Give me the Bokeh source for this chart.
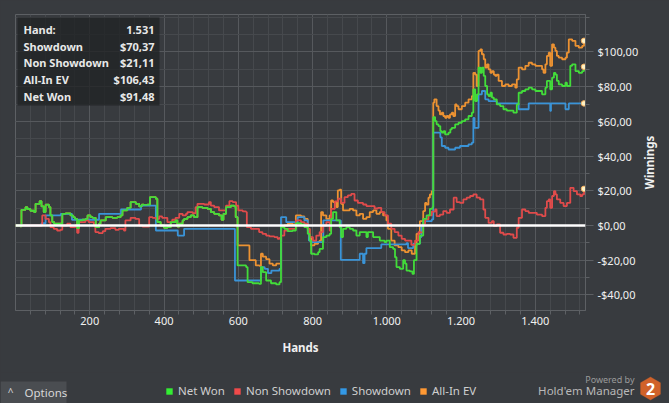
from bokeh.plotting import figure
from bokeh.models import (Range1d, FixedTicker, CustomJSTickFormatter, Span, Legend,
                          LegendItem, Label, BoxAnnotation, PolyAnnotation)
from bokeh.embed import file_html
from bokeh.resources import INLINE
import math

FONT = "Noto Sans"
BG = "#383b3f"

# ---------------- data (hand, cumulative $) ----------------
shared_start = [(0, 0), (13, -0.5), (16, 9), (27, 10.5), (32, 9.5), (40, 8.5), (50, 7.7), (54, 12.5),
                (65, 14), (70, 11), (76, 7.7), (81, 12), (90, 10.6), (94, 5.8), (99, 2), (104, 1),
                (117, 1), (126, 6.7), (135, 7), (148, 5.8), (155, 4.8), (160, 3.8), (166, -1.5),
                (171, 2.9), (180, 3.3), (189, 3.8), (194, 5.8), (202, 4.8), (208, 4.4), (216, -1),
                (225, 1), (229, 2.9), (243, 4.8), (261, 4.4), (274, 4.8), (283, 5.8), (288, 8.7),
                (301, 10.2), (310, 13.5), (324, 12.5), (333, 11), (340, 12), (346, 11.9), (355, 12),
                (362, 16.3), (378, 15.4), (382, 2), (391, 0), (400, -1.3), (409, -1), (418, 1.9),
                (431, 2.9), (436, -0.6), (441, 1), (450, 2.9), (454, 3.8), (463, 4.8), (472, 5.8),
                (481, 4.8), (490, 10.6), (503, 10.2), (517, 9.6), (526, 7.7), (535, 6.7), (548, 5.8),
                (555, 3.3), (560, 6.7), (567, 10.6), (580, 11.5), (589, 11), (593, 4.8)]

net_won_rest = [(598, -23), (607, -23), (621, -24), (625, -32.7), (638, -33.3), (656, -33.7),
                (661, -24), (666, -26.9), (675, -31.7), (688, -33.3), (702, -34), (711, -32.7),
                (715, -1), (724, -1.9), (733, -3.3), (746, -2.9), (755, 1.3), (769, 0.6), (778, -1),
                (787, -4.8), (792, -8.7), (796, -16.3), (805, -16.7), (815, -15.4), (819, -13.5),
                (828, -6.7), (837, -5.8), (846, -4.8), (850, 3.8), (855, 7.7), (864, 2.9), (873, -1),
                (877, -6.7), (882, -1.9), (891, -1), (900, -1.9), (909, -2.9), (918, -5.8),
                (927, -3.8), (936, -3.8), (945, -6.7), (949, -3.8), (958, -3.8), (963, -6.7),
                (972, -6.7), (981, -8.7), (994, -9.6), (999, -8.7), (1008, -12.5), (1017, -13.5),
                (1022, -18.3), (1026, -24), (1035, -25), (1044, -20), (1049, -22), (1053, -26),
                (1062, -26.5), (1069, -27.9), (1073, -20), (1080, -10.6), (1089, -5.8), (1098, 3.8),
                (1107, 5.8), (1116, 9.6), (1123, 10.6), (1125, 62.5), (1130, 60.2), (1134, 58.3),
                (1139, 57.3), (1144, 54.4), (1148, 53.5), (1153, 54.4), (1157, 52.5), (1166, 53.5),
                (1171, 55.4), (1175, 56.3), (1184, 58.3), (1193, 59.2), (1202, 60.2), (1211, 61.2),
                (1220, 63.1), (1229, 65), (1233, 78.5), (1238, 71.7), (1243, 75.6), (1247, 91),
                (1252, 88), (1256, 91), (1261, 86.2), (1265, 80.4), (1270, 75.6), (1274, 74.6),
                (1279, 76.5), (1283, 73.7), (1288, 72.7), (1296, 69.8), (1305, 68.8), (1314, 67),
                (1323, 66.2), (1332, 66.2), (1341, 65), (1350, 69.8), (1355, 76.5), (1364, 77.5),
                (1373, 78.5), (1382, 79.4), (1391, 78.5), (1400, 77.5), (1409, 77.5), (1418, 75.6),
                (1427, 79.4), (1431, 83.3), (1440, 78.5), (1445, 85.2), (1450, 88), (1454, 87),
                (1458, 83.3), (1463, 81.3), (1472, 80.4), (1481, 82.3), (1485, 80.4), (1494, 92),
                (1499, 92.9), (1508, 89), (1517, 88), (1526, 89), (1531, 91.48)]

allin_ev_rest = [(598, -11.5), (625, -11.5), (630, -20), (647, -23), (657, -23.3), (661, -16.3),
                 (666, -18), (675, -19.4), (684, -22), (693, -23), (702, -22), (711, -22), (715, -1),
                 (724, 0), (733, 1), (746, 0.6), (755, 5.8), (769, 5.2), (778, 3.8), (787, -1.9),
                 (792, -6.7), (796, -11.5), (805, -10.6), (815, -9.6), (819, -8.7), (823, 7.7),
                 (828, 5.8), (837, 3.8), (846, 5.8), (850, 14.4), (855, 13.5), (864, 10.6),
                 (868, 20.2), (873, 20.6), (877, 12.5), (882, 8.7), (891, 8.7), (900, 9.6),
                 (909, 8.7), (918, 5.8), (927, 6.7), (936, 3.8), (945, 4.8), (954, 7.7), (963, 8.7),
                 (972, 6.7), (981, 7.7), (990, 5.8), (999, 2.9), (1003, -1.9), (1012, -8.7),
                 (1021, -11.5), (1031, -12.5), (1040, -14.4), (1049, -15.4), (1058, -14.4),
                 (1067, -16.3), (1076, -11.5), (1080, -4.8), (1089, 2.5), (1098, 8.3), (1103, 13),
                 (1107, 12), (1112, 16), (1116, 17.9), (1121, 19.8), (1125, 70.8), (1128, 72.7),
                 (1134, 68.8), (1139, 66.2), (1143, 64), (1148, 65), (1152, 63.1), (1157, 62.1),
                 (1161, 63.1), (1166, 62.1), (1170, 64), (1175, 65), (1179, 63.1), (1184, 69.8),
                 (1188, 68.8), (1193, 67), (1202, 68.8), (1211, 70.8), (1220, 72.7), (1229, 74.6),
                 (1233, 88), (1238, 87), (1242, 80.4), (1247, 100.6), (1252, 101.5), (1256, 98.7),
                 (1261, 95.8), (1265, 91), (1270, 92.9), (1274, 90), (1279, 88), (1283, 88.9),
                 (1288, 87), (1292, 86.2), (1296, 87), (1301, 83.3), (1310, 80.4), (1319, 81.3),
                 (1328, 80.4), (1337, 81.3), (1346, 79.4), (1350, 84.2), (1355, 91), (1364, 90),
                 (1373, 92), (1382, 93.8), (1391, 92.9), (1400, 92), (1409, 92), (1418, 90),
                 (1422, 88), (1427, 92.9), (1431, 97.7), (1436, 99.6), (1440, 92), (1445, 104.4),
                 (1450, 102.5), (1454, 100.6), (1458, 97.7), (1463, 96.7), (1472, 95.8),
                 (1481, 96.7), (1485, 99.6), (1490, 107.3), (1499, 106.4), (1508, 103.5),
                 (1517, 102.5), (1526, 103.5), (1531, 106.43)]

showdown = [(0, 0), (67, 0), (70, 1.3), (81, 5.8), (121, 5.8), (122, 6.7), (148, 6.7), (152, 3.3),
            (224, 3.3), (225, 6.7), (283, 6.7), (284, 9.2), (337, 9.2), (338, 11.5), (377, 11.5),
            (378, -2.9), (436, -2.9), (437, -5.8), (453, -5.8), (454, -1.9), (590, -1.9),
            (591, -31.7), (660, -31.7), (661, -24), (671, -25), (680, -27.5), (689, -26),
            (702, -26), (711, -25), (715, 4.8), (728, 4.8), (729, 1.9), (755, 1.9), (760, 4.8),
            (778, 3), (787, -2.9), (790, -8.7), (795, -9.6), (828, -9.6), (829, 2.9), (873, 2.9),
            (876, -19.8), (926, -19.8), (927, -16.3), (936, -21.7), (940, -16.3), (945, -13),
            (981, -13), (985, -10.9), (1035, -10.9), (1053, -10.2), (1057, -13), (1066, -13),
            (1071, -10.6), (1089, -6.7), (1093, 0), (1098, 2.5), (1121, 3.5), (1125, 53.5),
            (1143, 53.5), (1144, 50.8), (1148, 45.8), (1157, 44.8), (1166, 43.8), (1184, 44.8),
            (1197, 45.8), (1220, 46.8), (1229, 47.7), (1233, 62), (1236, 56.3), (1246, 56.3),
            (1247, 75.6), (1256, 77.5), (1265, 72.7), (1274, 71.7), (1288, 71.7), (1296, 70.4),
            (1355, 67), (1382, 70.4), (1440, 66), (1442, 70.4), (1481, 67), (1490, 70.37),
            (1531, 70.37)]

non_showdown = [(0, 0), (71, 0), (72, 5.8), (81, 3.8), (90, 1.9), (94, -1), (103, -1.9), (112, -2.9),
                (121, -2.5), (126, 0), (139, 1), (148, -1), (161, 0), (166, -4.2), (170, 1.9),
                (188, 2.9), (197, 1.9), (211, 0), (215, -3.8), (224, -4.4), (235, -3.3), (242, -1.9),
                (256, -1.5), (269, -2.5), (278, -1.9), (292, -2.9), (296, 2.9), (310, 4.4),
                (323, 3.8), (333, 0), (342, -0.6), (360, 4.8), (369, 4.4), (378, 3.8), (387, 5.2),
                (395, 4.4), (409, 1.9), (422, 3.3), (431, 4.4), (441, 6.7), (450, 5.8), (459, 6.7),
                (463, 7.7), (477, 7.1), (485, 10.6), (490, 12.5), (508, 12.1), (521, 13.5),
                (526, 11.5), (535, 10.6), (548, 8.7), (557, 8.7), (567, 11.5), (576, 14),
                (585, 13.5), (594, 11.5), (600, 8.7), (612, 8.1), (621, 7.7), (623, -1), (634, -1.9),
                (647, -1.9), (656, -3.8), (665, -4.8), (675, -5.8), (684, -6.3), (697, -6.7),
                (706, -7.7), (711, -7.1), (715, -5.8), (724, -2.9), (733, -1.9), (746, -1.9),
                (755, 2.9), (769, 1.9), (778, 1), (787, -1.9), (792, -6.7), (801, -8.7),
                (810, -5.8), (819, -3.8), (828, 0), (837, 1.9), (846, -2.9), (850, 9.6),
                (860, 13.9), (869, 15.4), (877, 13), (886, 16.3), (895, 17.3), (904, 18.2),
                (913, 14.4), (922, 13), (936, 12.1), (945, 11.2), (958, 11.2), (967, 9.8),
                (976, 10.2), (985, 7.7), (994, 5.8), (1003, 1), (1012, -1.9), (1021, -3.8),
                (1031, -5.8), (1040, -7.7), (1049, -8.7), (1058, -8.7), (1066, -11.2),
                (1076, -8.7), (1085, -3.8), (1090, -4), (1098, 1), (1103, 3.5), (1112, 5.8),
                (1121, 8), (1130, 9.2), (1134, 5.4), (1143, 6.3), (1152, 8.3), (1161, 7.3),
                (1170, 9.2), (1180, 16), (1188, 13.5), (1197, 13), (1206, 15), (1215, 16),
                (1224, 17), (1233, 17.9), (1242, 16), (1251, 15), (1260, 9.2), (1265, 4.4),
                (1274, 1.5), (1283, 2.5), (1288, -0.4), (1296, 0.6), (1305, -4.2), (1314, -5.2),
                (1323, -4.8), (1332, -5.2), (1341, -7.1), (1350, -1.3), (1355, 4.4), (1364, 9.2),
                (1373, 8.3), (1382, 7.3), (1391, 7.3), (1404, 6.3), (1418, 5.4), (1427, 10.2),
                (1431, 14), (1436, 15), (1440, 10.2), (1445, 17), (1450, 19.8), (1454, 17.9),
                (1458, 15), (1467, 13), (1476, 11.2), (1485, 13), (1494, 21.7), (1503, 19.8),
                (1512, 17.9), (1521, 16.9), (1526, 17.9), (1531, 21.11)]

net_won = shared_start + net_won_rest
allin_ev = shared_start + allin_ev_rest

x_ticks = [200, 400, 600, 800, 1000, 1200, 1400]
y_ticks = [-40, -20, 0, 20, 40, 60, 80, 100]

legend_names = ["Net Won", "Non Showdown", "Showdown", "All-In EV"]
line_colors = {"Net Won": "#42dc3a", "Non Showdown": "#e04b4b",
               "Showdown": "#3a94d8", "All-In EV": "#ec9232"}
legend_colors = {"Net Won": "#33ee33", "Non Showdown": "#f04a4a",
                 "Showdown": "#3399e6", "All-In EV": "#ff9933"}
series = {"Net Won": net_won, "Non Showdown": non_showdown,
          "Showdown": showdown, "All-In EV": allin_ev}


def unzip(pts):
    return [a for a, _ in pts], [b for _, b in pts]


def money(v):
    return ("-$" if v < 0 else "$") + f"{abs(v):.2f}".replace(".", ",")


PAGE_W, PAGE_H = 669, 403
MAIN_H = 372

# ---------------- main figure ----------------
p = figure(frame_width=570, frame_height=296, output_backend="svg", toolbar_location=None,
           x_range=Range1d(0, 1535), y_range=Range1d(-49, 121.6),
           y_axis_location="right", background_fill_color=BG, border_fill_color=BG,
           min_border_left=15, min_border_top=14, min_border_right=PAGE_W - 585,
           min_border_bottom=MAIN_H - 310, outline_line_color="#5d6064")

GRID_MAJOR = "#56595d"
GRID_MINOR = "#46494d"
for g in (p.xgrid, p.ygrid):
    g.grid_line_color = GRID_MAJOR
    g.minor_grid_line_color = GRID_MINOR

xa = p.xaxis[0]
xa.ticker = FixedTicker(ticks=x_ticks, minor_ticks=list(range(40, 1535, 40)))
xa.formatter = CustomJSTickFormatter(code="""
const t = Math.round(tick);
return t >= 1000 ? Math.floor(t/1000) + '.' + String(t % 1000).padStart(3, '0') : String(t);
""")
xa.axis_label = "Hands"
xa.major_tick_out = 4
xa.major_tick_in = 0
xa.minor_tick_out = 4
xa.minor_tick_in = 0
xa.major_label_standoff = 2
xa.axis_label_standoff = 12

ya = p.yaxis[0]
ya.ticker = FixedTicker(ticks=y_ticks, minor_ticks=list(range(-40, 121, 10)))
ya.formatter = CustomJSTickFormatter(code="""
const s = Math.abs(tick).toFixed(2).replace('.', ',');
return (tick < 0 ? '-$' : '$') + s;
""")
ya.major_tick_out = 8
ya.major_tick_in = 0
ya.minor_tick_out = 4
ya.minor_tick_in = 0
ya.major_label_standoff = 4

for ax in (xa, ya):
    ax.axis_line_color = "#5d6064"
    ax.major_tick_line_color = "#5d6064"
    ax.minor_tick_line_color = "#5d6064"
    ax.major_label_text_color = "#f0f0f0"
    ax.major_label_text_font = FONT
    ax.major_label_text_font_size = "11px"
    ax.axis_label_text_color = "#f0f0f0"
    ax.axis_label_text_font = FONT
    ax.axis_label_text_font_size = "11.5px"
    ax.axis_label_text_font_style = "bold"

# y axis title, reading bottom-to-top, in the right side panel
p.add_layout(Label(x=8, y=148, x_units="screen", y_units="screen", text="Winnings",
                   angle=math.pi / 2, text_align="center", text_baseline="middle",
                   text_font=FONT, text_font_size="11.5px", text_font_style="bold",
                   text_color="#f0f0f0"), "right")

# lines (drawn so that Net Won is on top)
for name in ["All-In EV", "Showdown", "Non Showdown", "Net Won"]:
    xs, ys = unzip(series[name])
    p.step(xs, ys, mode="after", line_color=line_colors[name], line_width=1.8)

for name in ["All-In EV", "Showdown", "Non Showdown", "Net Won"]:
    xs, ys = unzip(series[name])
    p.scatter([xs[-1]], [ys[-1]], size=5.5, fill_color="#fff2c4",
              line_color="#f3b060", line_width=1)

p.add_layout(Span(location=0, dimension="width", line_color="white", line_width=2.5))

# info box (top-left)
p.add_layout(BoxAnnotation(left=2, right=144, bottom=205, top=293, left_units="screen",
                           right_units="screen", top_units="screen", bottom_units="screen",
                           fill_color="#202224", fill_alpha=0.78, line_color=None))
hands_total = showdown[-1][0]
rows = [("Hand:", f"{hands_total:,}".replace(",", ".")),
        ("Showdown", money(showdown[-1][1])),
        ("Non Showdown", money(non_showdown[-1][1])),
        ("All-In EV", money(allin_ev[-1][1])),
        ("Net Won", money(net_won[-1][1]))]
row_y = [281, 264, 248, 231, 214]
for (lab, val), yy in zip(rows, row_y):
    for txt, xx, al in ((lab, 8, "left"), (val, 139, "right")):
        p.add_layout(Label(x=xx, y=yy, x_units="screen", y_units="screen", text=txt,
                           text_align=al, text_baseline="middle", text_font=FONT,
                           text_font_size="11px", text_font_style="bold",
                           text_color="#e8e8e8"))

# ---------------- bottom strip (legend, options, branding) ----------------
STRIP_H = PAGE_H - MAIN_H
s = figure(width=PAGE_W, height=STRIP_H, output_backend="svg", toolbar_location=None,
           x_range=Range1d(0, PAGE_W), y_range=Range1d(0, STRIP_H),
           background_fill_color=BG, border_fill_color=BG, outline_line_color=None,
           min_border=0, x_axis_type=None, y_axis_type=None)
s.grid.visible = False

items = []
for name in legend_names:
    r = s.quad(left=[-50], right=[-40], top=[-40], bottom=[-50],
               fill_color=legend_colors[name], line_color=None)
    items.append(LegendItem(label=name, renderers=[r]))
legend = Legend(items=items, orientation="horizontal", location=(165, 5),
                padding=0, margin=0, spacing=8, glyph_width=8, glyph_height=8,
                label_standoff=5, label_height=14, background_fill_alpha=0,
                border_line_alpha=0, label_text_font=FONT, label_text_font_size="11.5px",
                label_text_color="#cfcfcf", inactive_fill_alpha=0)
s.add_layout(legend)

s.add_layout(BoxAnnotation(left=0, right=66, bottom=0, top=22, fill_color="#4a4d51",
                           fill_alpha=1, line_color=None))
s.add_layout(Label(x=10, y=12, text="^", text_align="center", text_baseline="middle",
                   text_font=FONT, text_font_size="10px", text_color="#d8d8d8"))
s.add_layout(Label(x=24, y=11, text="Options", text_baseline="middle", text_font=FONT,
                   text_font_size="11.5px", text_color="#d8d8d8"))

s.add_layout(Label(x=634, y=24, text="Powered by", text_align="right",
                   text_baseline="middle", text_font=FONT, text_font_size="9px",
                   text_color="#9a9a9a"))
s.add_layout(Label(x=634, y=13, text="Hold'em Manager", text_align="right",
                   text_baseline="middle", text_font=FONT, text_font_size="11.5px",
                   text_color="#b8b8b8"))
cx, cy, rr = 650, 15, 11.5
hx = [cx + rr * math.cos(math.radians(a)) for a in (90, 150, 210, 270, 330, 30)]
hy = [cy + rr * math.sin(math.radians(a)) for a in (90, 150, 210, 270, 330, 30)]
s.add_layout(PolyAnnotation(xs=hx, ys=hy, fill_color="#d0622a", fill_alpha=1,
                            line_color="#d0622a"))
s.add_layout(Label(x=cx, y=cy, text="2", text_align="center", text_baseline="middle",
                   text_font=FONT, text_font_size="16px", text_font_style="bold",
                   text_color="white"))

html = file_html([p, s], INLINE)
html = html.replace("</head>",
                    "<style>html,body{background:%s;overflow:hidden;margin:0;}</style></head>" % BG, 1)
open("out.html", "w").write(html)
